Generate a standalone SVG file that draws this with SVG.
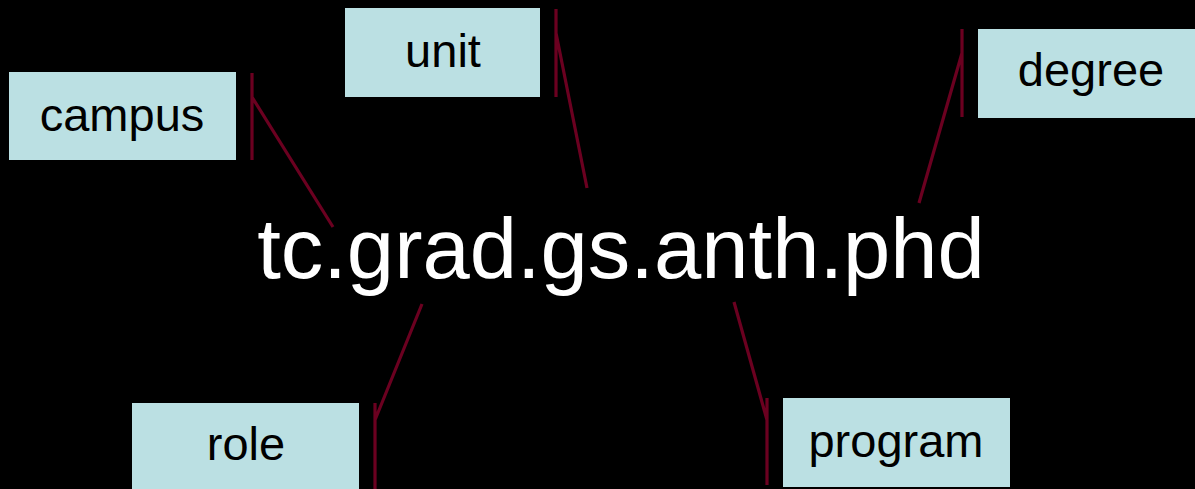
<svg xmlns="http://www.w3.org/2000/svg" width="1195" height="489" viewBox="0 0 1195 489">
<style>
.box{fill:#bbe0e3}
.lbl{font-family:"Liberation Sans",Arial,sans-serif;font-size:47px;fill:#000;text-anchor:middle}
.main{font-family:"Liberation Sans",Arial,sans-serif;font-size:85px;fill:#fff;text-anchor:middle}
.con{stroke:#6b0020;stroke-width:3.2;fill:none}
</style>
<rect width="1195" height="489" fill="#000"/>
<g id="main"><text class="main" x="621" y="278">tc.grad.gs.anth.phd</text></g>
<g id="campus"><rect class="box" x="9" y="72" width="227" height="88"/><text class="lbl" x="122" y="131">campus</text></g>
<g id="unit"><rect class="box" x="345" y="8" width="195" height="89"/><text class="lbl" x="443" y="67">unit</text></g>
<g id="degree"><rect class="box" x="978" y="29" width="217" height="89"/><text class="lbl" x="1091" y="86">degree</text></g>
<g id="role"><rect class="box" x="132" y="403" width="227" height="86"/><text class="lbl" x="246" y="460">role</text></g>
<g id="program"><rect class="box" x="783" y="398" width="227" height="89"/><text class="lbl" x="896" y="457">program</text></g>
<g id="connectors">
<path class="con" d="M252 73V160M252 97L333 227"/>
<path class="con" d="M556 9V97M556 33L587 188"/>
<path class="con" d="M962 29V117M962 53L919 203"/>
<path class="con" d="M375 403V489M375 420L422 304"/>
<path class="con" d="M767 398V485M767 420L734 302"/>
</g>
</svg>
